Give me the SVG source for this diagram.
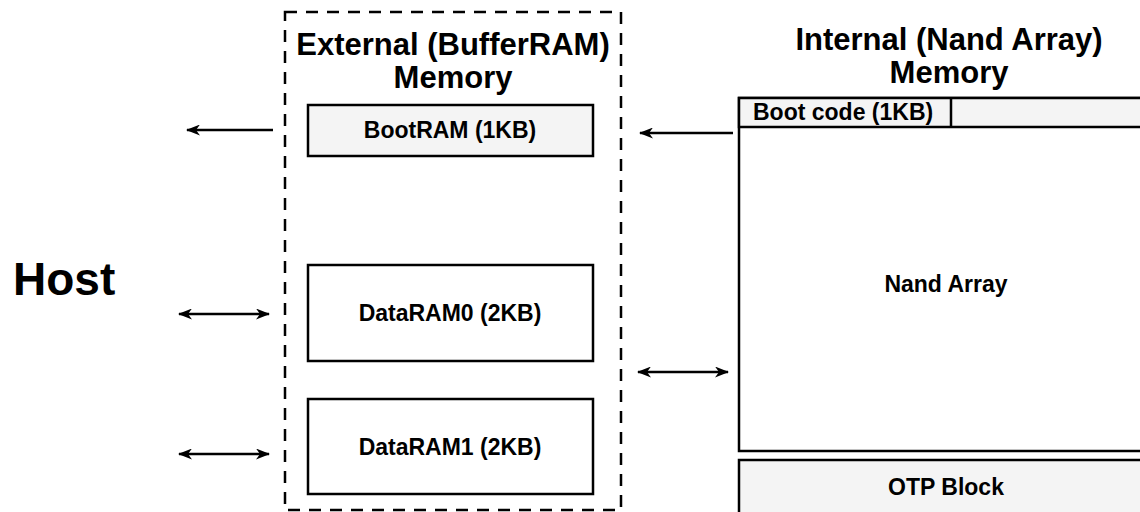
<svg xmlns="http://www.w3.org/2000/svg" width="1140" height="512" viewBox="0 0 1140 512">
<style>
text{font-family:"Liberation Sans",Arial,sans-serif;font-weight:bold;fill:#000}
.box{stroke:#000;stroke-width:2.5}
.gray{fill:#f4f4f4}
.white{fill:#fff}
.title{font-size:31px;text-anchor:middle}
.lbl{font-size:23px;text-anchor:middle}
.conn{stroke:#000;stroke-width:2.5;fill:none}
</style>
<defs>
<marker id="ah" viewBox="0 0 14 11" refX="13" refY="5.5" markerWidth="14" markerHeight="11" markerUnits="userSpaceOnUse" orient="auto-start-reverse">
<path d="M0,0 L14,5.5 L0,11 L4,5.5 Z" fill="#000"/>
</marker>
</defs>
<rect width="1140" height="512" fill="#fff"/>
<g id="host"><text x="13" y="295" style="font-size:46px">Host</text></g>
<g id="external">
<rect x="285" y="12" width="336" height="498" fill="none" stroke="#000" stroke-width="2.5" stroke-dasharray="12,9"/>
<text class="title" x="453" y="55">External (BufferRAM)</text>
<text class="title" x="453" y="88">Memory</text>
</g>
<g id="bootram"><rect class="box gray" x="308" y="105" width="285" height="51"/><text class="lbl" x="450" y="138">BootRAM (1KB)</text></g>
<g id="dataram0"><rect class="box white" x="308" y="265" width="285" height="96"/><text class="lbl" x="450" y="321">DataRAM0 (2KB)</text></g>
<g id="dataram1"><rect class="box white" x="308" y="399" width="285" height="95"/><text class="lbl" x="450" y="455">DataRAM1 (2KB)</text></g>
<g id="internal">
<text class="title" x="949" y="50">Internal (Nand Array)</text>
<text class="title" x="949" y="83">Memory</text>
</g>
<g id="nandarray"><rect class="box white" x="739" y="98" width="420" height="353"/><text class="lbl" x="946" y="292">Nand Array</text></g>
<g id="bootcode"><rect class="box gray" x="739" y="98" width="420" height="29"/><line class="box" x1="951" y1="98" x2="951" y2="127"/><text x="753" y="120" style="font-size:23px">Boot code (1KB)</text></g>
<g id="otp"><rect class="box gray" x="739" y="460" width="420" height="70"/><text class="lbl" x="946" y="495">OTP Block</text></g>
<g id="connectors">
<line class="conn" x1="273" y1="130" x2="187" y2="130" marker-end="url(#ah)"/>
<line class="conn" x1="179" y1="314" x2="269" y2="314" marker-start="url(#ah)" marker-end="url(#ah)"/>
<line class="conn" x1="179" y1="454" x2="269" y2="454" marker-start="url(#ah)" marker-end="url(#ah)"/>
<line class="conn" x1="733" y1="133" x2="640" y2="133" marker-end="url(#ah)"/>
<line class="conn" x1="638" y1="372" x2="728" y2="372" marker-start="url(#ah)" marker-end="url(#ah)"/>
</g>
</svg>
